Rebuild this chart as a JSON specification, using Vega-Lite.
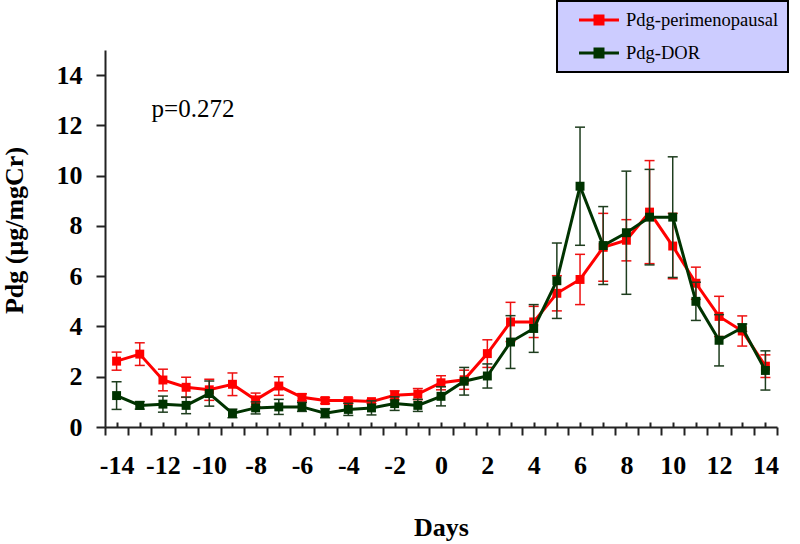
{
  "$schema": "https://vega.github.io/schema/vega-lite/v6.json",
  "width": 672,
  "height": 377,
  "autosize": {"type": "none"},
  "padding": {"left": 105, "top": 50, "right": 23, "bottom": 117},
  "background": "white",
  "config": {
    "view": {"stroke": null},
    "font": "Liberation Serif",
    "axis": {"grid": false, "domainColor": "#222", "tickColor": "#222", "domainWidth": 2, "tickWidth": 2, "labelFont": "Liberation Serif", "labelFontWeight": "bold", "labelFontSize": 26, "labelColor": "black", "titleFont": "Liberation Serif", "titleFontWeight": "bold", "titleFontSize": 26, "titleColor": "black"}
  },
  "data": {"values": [
    {"day": -14, "series": "Pdg-perimenopausal", "value": 2.62, "lo": 2.26, "hi": 2.98},
    {"day": -13, "series": "Pdg-perimenopausal", "value": 2.90, "lo": 2.45, "hi": 3.35},
    {"day": -12, "series": "Pdg-perimenopausal", "value": 1.87, "lo": 1.44, "hi": 2.30},
    {"day": -11, "series": "Pdg-perimenopausal", "value": 1.58, "lo": 1.18, "hi": 1.98},
    {"day": -10, "series": "Pdg-perimenopausal", "value": 1.48, "lo": 1.06, "hi": 1.90},
    {"day": -9, "series": "Pdg-perimenopausal", "value": 1.70, "lo": 1.25, "hi": 2.15},
    {"day": -8, "series": "Pdg-perimenopausal", "value": 1.08, "lo": 0.81, "hi": 1.35},
    {"day": -7, "series": "Pdg-perimenopausal", "value": 1.63, "lo": 1.26, "hi": 2.00},
    {"day": -6, "series": "Pdg-perimenopausal", "value": 1.18, "lo": 1.04, "hi": 1.32},
    {"day": -5, "series": "Pdg-perimenopausal", "value": 1.05, "lo": 0.93, "hi": 1.17},
    {"day": -4, "series": "Pdg-perimenopausal", "value": 1.05, "lo": 0.95, "hi": 1.15},
    {"day": -3, "series": "Pdg-perimenopausal", "value": 1.01, "lo": 0.93, "hi": 1.09},
    {"day": -2, "series": "Pdg-perimenopausal", "value": 1.26, "lo": 1.08, "hi": 1.44},
    {"day": -1, "series": "Pdg-perimenopausal", "value": 1.31, "lo": 1.09, "hi": 1.53},
    {"day": 0, "series": "Pdg-perimenopausal", "value": 1.76, "lo": 1.48, "hi": 2.04},
    {"day": 1, "series": "Pdg-perimenopausal", "value": 1.88, "lo": 1.50, "hi": 2.26},
    {"day": 2, "series": "Pdg-perimenopausal", "value": 2.92, "lo": 2.37, "hi": 3.47},
    {"day": 3, "series": "Pdg-perimenopausal", "value": 4.18, "lo": 3.40, "hi": 4.96},
    {"day": 4, "series": "Pdg-perimenopausal", "value": 4.18, "lo": 3.56, "hi": 4.80},
    {"day": 5, "series": "Pdg-perimenopausal", "value": 5.32, "lo": 4.62, "hi": 6.02},
    {"day": 6, "series": "Pdg-perimenopausal", "value": 5.87, "lo": 4.87, "hi": 6.87},
    {"day": 7, "series": "Pdg-perimenopausal", "value": 7.15, "lo": 5.80, "hi": 8.50},
    {"day": 8, "series": "Pdg-perimenopausal", "value": 7.43, "lo": 6.61, "hi": 8.25},
    {"day": 9, "series": "Pdg-perimenopausal", "value": 8.55, "lo": 6.50, "hi": 10.60},
    {"day": 10, "series": "Pdg-perimenopausal", "value": 7.20, "lo": 5.90, "hi": 8.50},
    {"day": 11, "series": "Pdg-perimenopausal", "value": 5.72, "lo": 5.08, "hi": 6.36},
    {"day": 12, "series": "Pdg-perimenopausal", "value": 4.40, "lo": 3.60, "hi": 5.20},
    {"day": 13, "series": "Pdg-perimenopausal", "value": 3.82, "lo": 3.22, "hi": 4.42},
    {"day": 14, "series": "Pdg-perimenopausal", "value": 2.42, "lo": 1.97, "hi": 2.87},
    {"day": -14, "series": "Pdg-DOR", "value": 1.25, "lo": 0.70, "hi": 1.80},
    {"day": -13, "series": "Pdg-DOR", "value": 0.86, "lo": 0.71, "hi": 1.01},
    {"day": -12, "series": "Pdg-DOR", "value": 0.91, "lo": 0.59, "hi": 1.23},
    {"day": -11, "series": "Pdg-DOR", "value": 0.86, "lo": 0.53, "hi": 1.19},
    {"day": -10, "series": "Pdg-DOR", "value": 1.33, "lo": 0.83, "hi": 1.83},
    {"day": -9, "series": "Pdg-DOR", "value": 0.54, "lo": 0.37, "hi": 0.71},
    {"day": -8, "series": "Pdg-DOR", "value": 0.76, "lo": 0.52, "hi": 1.00},
    {"day": -7, "series": "Pdg-DOR", "value": 0.80, "lo": 0.50, "hi": 1.10},
    {"day": -6, "series": "Pdg-DOR", "value": 0.80, "lo": 0.62, "hi": 0.98},
    {"day": -5, "series": "Pdg-DOR", "value": 0.55, "lo": 0.37, "hi": 0.73},
    {"day": -4, "series": "Pdg-DOR", "value": 0.70, "lo": 0.46, "hi": 0.94},
    {"day": -3, "series": "Pdg-DOR", "value": 0.76, "lo": 0.48, "hi": 1.04},
    {"day": -2, "series": "Pdg-DOR", "value": 0.93, "lo": 0.66, "hi": 1.20},
    {"day": -1, "series": "Pdg-DOR", "value": 0.86, "lo": 0.62, "hi": 1.10},
    {"day": 0, "series": "Pdg-DOR", "value": 1.22, "lo": 0.84, "hi": 1.60},
    {"day": 1, "series": "Pdg-DOR", "value": 1.82, "lo": 1.27, "hi": 2.37},
    {"day": 2, "series": "Pdg-DOR", "value": 2.03, "lo": 1.55, "hi": 2.51},
    {"day": 3, "series": "Pdg-DOR", "value": 3.38, "lo": 2.33, "hi": 4.43},
    {"day": 4, "series": "Pdg-DOR", "value": 3.92, "lo": 2.97, "hi": 4.87},
    {"day": 5, "series": "Pdg-DOR", "value": 5.82, "lo": 4.32, "hi": 7.32},
    {"day": 6, "series": "Pdg-DOR", "value": 9.58, "lo": 7.23, "hi": 11.93},
    {"day": 7, "series": "Pdg-DOR", "value": 7.22, "lo": 5.67, "hi": 8.77},
    {"day": 8, "series": "Pdg-DOR", "value": 7.73, "lo": 5.28, "hi": 10.18},
    {"day": 9, "series": "Pdg-DOR", "value": 8.35, "lo": 6.45, "hi": 10.25},
    {"day": 10, "series": "Pdg-DOR", "value": 8.35, "lo": 5.95, "hi": 10.75},
    {"day": 11, "series": "Pdg-DOR", "value": 5.00, "lo": 4.24, "hi": 5.76},
    {"day": 12, "series": "Pdg-DOR", "value": 3.45, "lo": 2.43, "hi": 4.47},
    {"day": 13, "series": "Pdg-DOR", "value": 3.95, "lo": 3.80, "hi": 4.10},
    {"day": 14, "series": "Pdg-DOR", "value": 2.25, "lo": 1.47, "hi": 3.03}
  ]},
  "resolve": {"axis": {"x": "independent"}},
  "layer": [
    {
      "transform": [{"filter": "datum.series === 'Pdg-perimenopausal'"}],
      "mark": {"type": "rule", "color": "#ee1111", "strokeWidth": 1.5},
      "encoding": {
        "x": {"field": "day", "type": "quantitative", "scale": {"domain": [-14.5, 14.5], "nice": false, "zero": false},
          "axis": {"values": [-14.5,-13.5,-12.5,-11.5,-10.5,-9.5,-8.5,-7.5,-6.5,-5.5,-4.5,-3.5,-2.5,-1.5,-0.5,0.5,1.5,2.5,3.5,4.5,5.5,6.5,7.5,8.5,9.5,10.5,11.5,12.5,13.5,14.5], "labels": false, "tickSize": 8, "title": "Days", "titleX": 336, "titleY": 108, "titleBaseline": "alphabetic", "titleAlign": "center", "orient": "bottom"}},
        "y": {"field": "lo", "type": "quantitative", "scale": {"domain": [0, 15], "nice": false, "zero": true},
          "axis": {"values": [0, 2, 4, 6, 8, 10, 12, 14], "tickSize": 9, "labelPadding": 14, "title": "Pdg (μg/mgCr)", "titleX": -83, "titleY": 180, "titleAngle": -90, "titleBaseline": "alphabetic", "titleAlign": "center"}},
        "y2": {"field": "hi"}
      }
    },
    {
      "transform": [{"filter": "datum.series === 'Pdg-perimenopausal'"}],
      "mark": {"type": "tick", "orient": "horizontal", "size": 10, "thickness": 1.5, "color": "#ee1111", "opacity": 1},
      "encoding": {
        "x": {"field": "day", "type": "quantitative", "axis": null},
        "y": {"field": "lo", "type": "quantitative", "axis": {"values": [0, 2, 4, 6, 8, 10, 12, 14], "tickSize": 9, "labelPadding": 14, "title": "Pdg (μg/mgCr)", "titleX": -83, "titleY": 180, "titleAngle": -90, "titleBaseline": "alphabetic", "titleAlign": "center"}}
      }
    },
    {
      "transform": [{"filter": "datum.series === 'Pdg-perimenopausal'"}],
      "mark": {"type": "tick", "orient": "horizontal", "size": 10, "thickness": 1.5, "color": "#ee1111", "opacity": 1},
      "encoding": {
        "x": {"field": "day", "type": "quantitative", "axis": null},
        "y": {"field": "hi", "type": "quantitative", "axis": {"values": [0, 2, 4, 6, 8, 10, 12, 14], "tickSize": 9, "labelPadding": 14, "title": "Pdg (μg/mgCr)", "titleX": -83, "titleY": 180, "titleAngle": -90, "titleBaseline": "alphabetic", "titleAlign": "center"}}
      }
    },
    {
      "transform": [{"filter": "datum.series === 'Pdg-perimenopausal'"}],
      "mark": {"type": "line", "strokeWidth": 3},
      "encoding": {
        "x": {"field": "day", "type": "quantitative", "axis": null},
        "y": {"field": "value", "type": "quantitative", "axis": {"values": [0, 2, 4, 6, 8, 10, 12, 14], "tickSize": 9, "labelPadding": 14, "title": "Pdg (μg/mgCr)", "titleX": -83, "titleY": 180, "titleAngle": -90, "titleBaseline": "alphabetic", "titleAlign": "center"}},
        "color": {"field": "series", "type": "nominal",
          "scale": {"domain": ["Pdg-perimenopausal", "Pdg-DOR"], "range": ["#ff0000", "#003300"]},
          "legend": {"orient": "none", "legendX": 452, "legendY": -49, "title": null, "fillColor": "#ccccff", "strokeColor": "#000000", "padding": 9,
            "symbolType": "M-2.35,0H2.35M-0.47,-0.47H0.47V0.47H-0.47Z", "symbolSize": 289, "symbolStrokeWidth": 3, "symbolOffset": 23, "labelOffset": 17,
            "labelFont": "Liberation Serif", "labelFontSize": 18.5, "labelColor": "black", "rowPadding": 13, "labelLimit": 300,
            "encode": {"legend": {"update": {"strokeWidth": {"value": 2}}}, "symbols": {"update": {"fill": {"scale": "color", "field": "value"}, "stroke": {"scale": "color", "field": "value"}, "opacity": {"value": 1}}}}}
        }
      }
    },
    {
      "transform": [{"filter": "datum.series === 'Pdg-perimenopausal'"}],
      "mark": {"type": "square", "size": 80, "color": "#ff0000", "opacity": 1},
      "encoding": {
        "x": {"field": "day", "type": "quantitative", "axis": null},
        "y": {"field": "value", "type": "quantitative", "axis": {"values": [0, 2, 4, 6, 8, 10, 12, 14], "tickSize": 9, "labelPadding": 14, "title": "Pdg (μg/mgCr)", "titleX": -83, "titleY": 180, "titleAngle": -90, "titleBaseline": "alphabetic", "titleAlign": "center"}}
      }
    },
    {
      "transform": [{"filter": "datum.series === 'Pdg-DOR'"}],
      "mark": {"type": "rule", "color": "#1e3d1e", "strokeWidth": 1.5},
      "encoding": {
        "x": {"field": "day", "type": "quantitative", "axis": null},
        "y": {"field": "lo", "type": "quantitative", "axis": {"values": [0, 2, 4, 6, 8, 10, 12, 14], "tickSize": 9, "labelPadding": 14, "title": "Pdg (μg/mgCr)", "titleX": -83, "titleY": 180, "titleAngle": -90, "titleBaseline": "alphabetic", "titleAlign": "center"}},
        "y2": {"field": "hi"}
      }
    },
    {
      "transform": [{"filter": "datum.series === 'Pdg-DOR'"}],
      "mark": {"type": "tick", "orient": "horizontal", "size": 10, "thickness": 1.5, "color": "#1e3d1e", "opacity": 1},
      "encoding": {
        "x": {"field": "day", "type": "quantitative", "axis": null},
        "y": {"field": "lo", "type": "quantitative", "axis": {"values": [0, 2, 4, 6, 8, 10, 12, 14], "tickSize": 9, "labelPadding": 14, "title": "Pdg (μg/mgCr)", "titleX": -83, "titleY": 180, "titleAngle": -90, "titleBaseline": "alphabetic", "titleAlign": "center"}}
      }
    },
    {
      "transform": [{"filter": "datum.series === 'Pdg-DOR'"}],
      "mark": {"type": "tick", "orient": "horizontal", "size": 10, "thickness": 1.5, "color": "#1e3d1e", "opacity": 1},
      "encoding": {
        "x": {"field": "day", "type": "quantitative", "axis": null},
        "y": {"field": "hi", "type": "quantitative", "axis": {"values": [0, 2, 4, 6, 8, 10, 12, 14], "tickSize": 9, "labelPadding": 14, "title": "Pdg (μg/mgCr)", "titleX": -83, "titleY": 180, "titleAngle": -90, "titleBaseline": "alphabetic", "titleAlign": "center"}}
      }
    },
    {
      "transform": [{"filter": "datum.series === 'Pdg-DOR'"}],
      "mark": {"type": "line", "strokeWidth": 3},
      "encoding": {
        "x": {"field": "day", "type": "quantitative", "axis": null},
        "y": {"field": "value", "type": "quantitative", "axis": {"values": [0, 2, 4, 6, 8, 10, 12, 14], "tickSize": 9, "labelPadding": 14, "title": "Pdg (μg/mgCr)", "titleX": -83, "titleY": 180, "titleAngle": -90, "titleBaseline": "alphabetic", "titleAlign": "center"}},
        "color": {"field": "series", "type": "nominal", "legend": null}
      }
    },
    {
      "transform": [{"filter": "datum.series === 'Pdg-DOR'"}],
      "mark": {"type": "square", "size": 80, "color": "#003300", "opacity": 1},
      "encoding": {
        "x": {"field": "day", "type": "quantitative", "axis": null},
        "y": {"field": "value", "type": "quantitative", "axis": {"values": [0, 2, 4, 6, 8, 10, 12, 14], "tickSize": 9, "labelPadding": 14, "title": "Pdg (μg/mgCr)", "titleX": -83, "titleY": 180, "titleAngle": -90, "titleBaseline": "alphabetic", "titleAlign": "center"}}
      }
    },
    {
      "data": {"values": [{"day": -12.49, "value": 12.33, "label": "p=0.272"}]},
      "mark": {"type": "text", "align": "left", "baseline": "alphabetic", "font": "Liberation Serif", "fontSize": 25, "color": "black"},
      "encoding": {
        "x": {"field": "day", "type": "quantitative",
          "axis": {"values": [-14,-13,-12,-11,-10,-9,-8,-7,-6,-5,-4,-3,-2,-1,0,1,2,3,4,5,6,7,8,9,10,11,12,13,14], "tickSize": -5, "domain": false, "labelPadding": 30, "labelOverlap": false, "labelBound": false, "labelFlush": false, "labelExpr": "datum.value % 2 === 0 ? '' + datum.value : ''", "title": null, "orient": "bottom"}},
        "y": {"field": "value", "type": "quantitative", "axis": {"values": [0, 2, 4, 6, 8, 10, 12, 14], "tickSize": 9, "labelPadding": 14, "title": "Pdg (μg/mgCr)", "titleX": -83, "titleY": 180, "titleAngle": -90, "titleBaseline": "alphabetic", "titleAlign": "center"}},
        "text": {"field": "label"}
      }
    }
  ]
}
